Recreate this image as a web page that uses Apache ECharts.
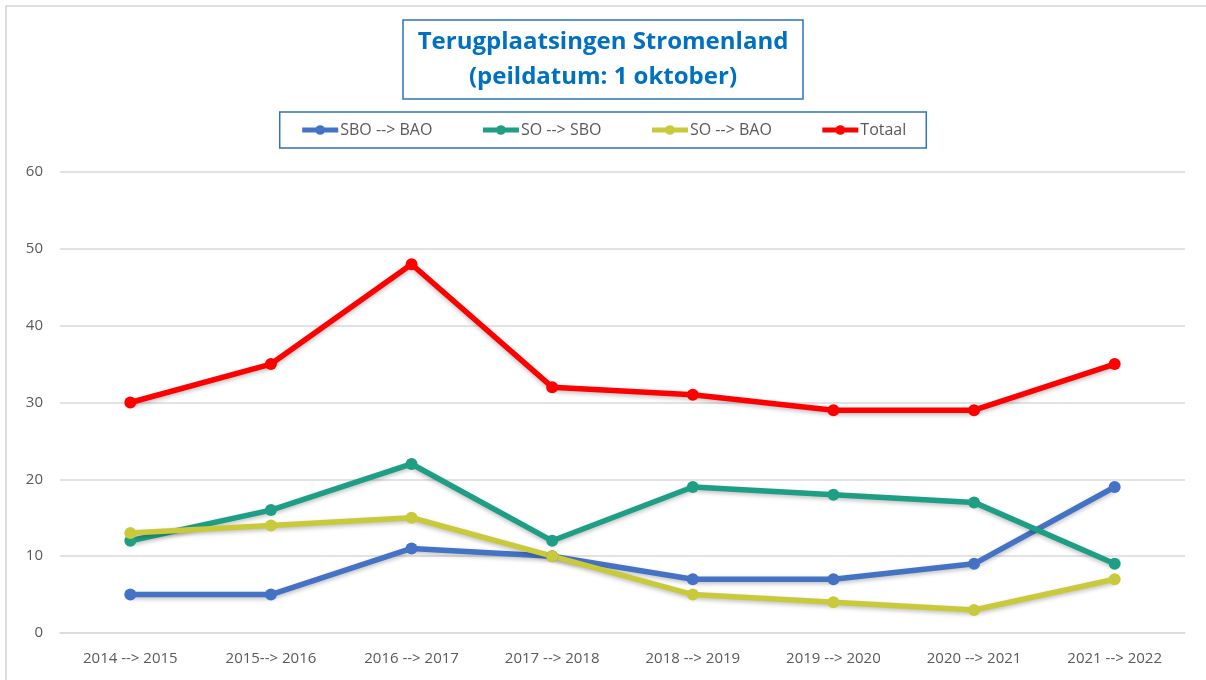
<!DOCTYPE html>
<html><head><meta charset="utf-8">
<script src="https://cdn.jsdelivr.net/npm/echarts@6/dist/echarts.min.js"></script>
<style>html,body{margin:0;padding:0;background:#fff}#c{width:1206px;height:680px}</style>
</head><body><div id="c"></div>
<script>
const categories = ['2014 --> 2015','2015--> 2016','2016 --> 2017','2017 --> 2018','2018 --> 2019','2019 --> 2020','2020 --> 2021','2021 --> 2022'];
const sboBao = [5,5,11,10,7,7,9,19];
const soSbo = [12,16,22,12,19,18,17,9];
const soBao = [13,14,15,10,5,4,3,7];
const totaal = [30,35,48,32,31,29,29,35];
const yTicks = [0,10,20,30,40,50,60];

const chart = echarts.init(document.getElementById('c'));
function ser(name, data, color){
  return {name, type:'line', data, symbol:'circle', symbolSize:12,
    lineStyle:{width:5.5, color, shadowColor:'rgba(0,0,0,0.25)', shadowBlur:4, shadowOffsetY:2},
    itemStyle:{color}, emphasis:{disabled:true}};
}
chart.setOption({
  animation:false,
  graphic:[{type:'rect', shape:{x:6,y:6,width:1400,height:900}, style:{fill:'none', stroke:'#d4d4d4', lineWidth:1.5}}],
  title:{text:'Terugplaatsingen Stromenland\n(peildatum: 1 oktober)', left:'center', top:20,
    borderColor:'#2E75B6', borderWidth:1.5, padding:[5,15,4,15],
    textStyle:{fontFamily:'Open Sans', fontWeight:'bold', fontSize:24, lineHeight:35, color:'#0070C0'}},
  legend:{top:112, left:'center', borderColor:'#2E75B6', borderWidth:1.5, padding:[10,20,10,20],
    itemWidth:36, itemHeight:12, itemGap:48,
    lineStyle:{width:5},
    textStyle:{fontFamily:'Open Sans', fontSize:16, color:'#595959', padding:[0,0,0,-3]},
    data:['SBO --> BAO','SO --> SBO','SO --> BAO','Totaal']},
  grid:{left:60, right:21, top:172, bottom:47, containLabel:false},
  xAxis:{type:'category', data:categories, boundaryGap:true,
    axisLine:{lineStyle:{color:'#d9d9d9', width:1.5}}, axisTick:{show:false},
    axisLabel:{fontFamily:'Open Sans', fontSize:15, color:'#595959', margin:18, interval:0}},
  yAxis:{type:'value', min:yTicks[0], max:yTicks[yTicks.length-1], interval:10,
    axisLine:{show:false}, axisTick:{show:false},
    splitLine:{lineStyle:{color:'#d9d9d9', width:1.5}},
    axisLabel:{fontFamily:'Open Sans', fontSize:15, color:'#595959', margin:17}},
  series:[ser('SBO --> BAO', sboBao, '#4472C4'), ser('SO --> SBO', soSbo, '#1E9E84'),
    ser('SO --> BAO', soBao, '#C9C93C'), ser('Totaal', totaal, '#FF0000')]
});
</script></body></html>
